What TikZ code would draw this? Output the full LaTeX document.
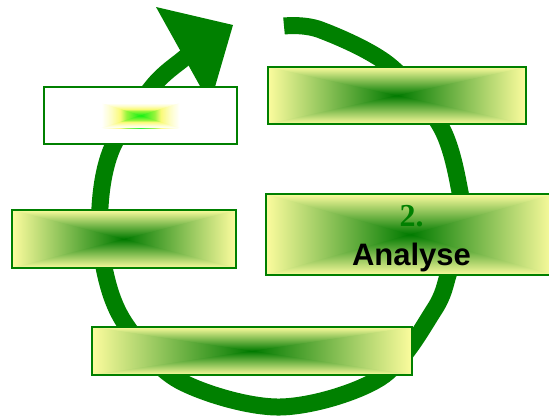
\documentclass[tikz,border=0pt]{standalone}
\usepackage{fontspec}
\setmainfont{Liberation Sans}
\newfontfamily\numserif{Liberation Serif}

\definecolor{ringgreen}{RGB}{0,128,0}
\definecolor{paleyellow}{RGB}{252,252,158}
\definecolor{deepgreen}{RGB}{0,122,0}
\definecolor{softyellow}{RGB}{250,250,120}
\definecolor{fadeyellow}{RGB}{253,253,200}
\definecolor{limemid}{RGB}{150,245,60}
\definecolor{limecore}{RGB}{20,240,20}

% pyramid ("from centre") fill: a horizontal and a vertical ramp, pale edge to green centre
\pgfdeclarehorizontalshading{pyrh}{100bp}{color(0bp)=(paleyellow); color(25bp)=(paleyellow); color(50bp)=(deepgreen); color(75bp)=(paleyellow); color(100bp)=(paleyellow)}
\pgfdeclareverticalshading{pyrv}{100bp}{color(0bp)=(paleyellow); color(25bp)=(paleyellow); color(50bp)=(deepgreen); color(75bp)=(paleyellow); color(100bp)=(paleyellow)}
% small glow in the white box: white edge, yellow, bright green centre
\pgfdeclarehorizontalshading{glowh}{100bp}{color(0bp)=(white); color(25bp)=(white); color(31bp)=(fadeyellow); color(37bp)=(softyellow); color(41bp)=(limemid); color(50bp)=(limecore); color(59bp)=(limemid); color(63bp)=(softyellow); color(69bp)=(fadeyellow); color(75bp)=(white); color(100bp)=(white)}
\pgfdeclareverticalshading{glowv}{100bp}{color(0bp)=(white); color(25bp)=(white); color(31bp)=(fadeyellow); color(37bp)=(softyellow); color(41bp)=(limemid); color(50bp)=(limecore); color(59bp)=(limemid); color(63bp)=(softyellow); color(69bp)=(fadeyellow); color(75bp)=(white); color(100bp)=(white)}

\tikzset{
  ring/.style={draw=ringgreen, line width=17pt, line cap=butt},
  boxframe/.style={draw=ringgreen, line width=2pt, inner sep=0pt, outer sep=0pt, rectangle},
  pyrbox/.style={boxframe, path picture={
      \shade[shading=pyrh] (path picture bounding box.south west) rectangle (path picture bounding box.north east);
      \shade[shading=pyrv]
        (path picture bounding box.north west) -- (path picture bounding box.north east) -- (path picture bounding box.center) -- cycle
        (path picture bounding box.south west) -- (path picture bounding box.south east) -- (path picture bounding box.center) -- cycle;
  }},
  whitebox/.style={boxframe, fill=white},
  numtext/.style={inner sep=0pt, anchor=base, text=ringgreen, font=\numserif\bfseries\fontsize{32}{36}\selectfont},
  titletext/.style={inner sep=0pt, anchor=base, text=black, font=\bfseries\fontsize{31}{36}\selectfont},
}

\begin{document}
\begin{tikzpicture}[x=1pt, y=-1pt]
  \useasboundingbox (0,0) rectangle (549,418);
  \clip (0,0) rectangle (549,418);

  % the circular arrow: thick band running clockwise, then the head
  \coordinate (ringstart) at (284,26);
  \coordinate (ringend) at (192,51);
  \draw[ring] plot[smooth, tension=0.55] coordinates {
    (ringstart) (320,29.7) (389,65) (441,127) (460,192) (461,230) (449,272) (434,310)
    (380,378) (280,407) (180,381) (126,325) (105,272) (100,207) (112.5,147)
    (153,86) (185,57.5) (ringend)};
  \fill[ringgreen] (156,7) -- (233,25) -- (210,104) -- cycle;

  % boxes around the cycle
  \node[whitebox, minimum width=193, minimum height=57] (boxa) at (140.5,115.5) {};
  \node[pyrbox, minimum width=258, minimum height=57] (boxb) at (397,95.5) {};
  \node[pyrbox, minimum width=224, minimum height=58] (boxc) at (124,239) {};
  \node[pyrbox, minimum width=288, minimum height=81] (boxd) at (410,234.5) {};
  \node[pyrbox, minimum width=320, minimum height=48] (boxe) at (252,351) {};

  % small glow in the middle of the white box
  \shade[shading=glowh] ([shift={(-39,-12.5)}]boxa.center) rectangle ([shift={(39,12.5)}]boxa.center);
  \shade[shading=glowv]
    ([shift={(-39,-12.5)}]boxa.center) -- ([shift={(39,-12.5)}]boxa.center) -- (boxa.center) -- cycle
    ([shift={(-39,12.5)}]boxa.center) -- ([shift={(39,12.5)}]boxa.center) -- (boxa.center) -- cycle;

  % label of the analysis step
  \node[numtext] (stepnum) at (411.5,226.7) {2.};
  \node[titletext] (steptitle) at (411.5,265) {Analyse};
\end{tikzpicture}
\end{document}
